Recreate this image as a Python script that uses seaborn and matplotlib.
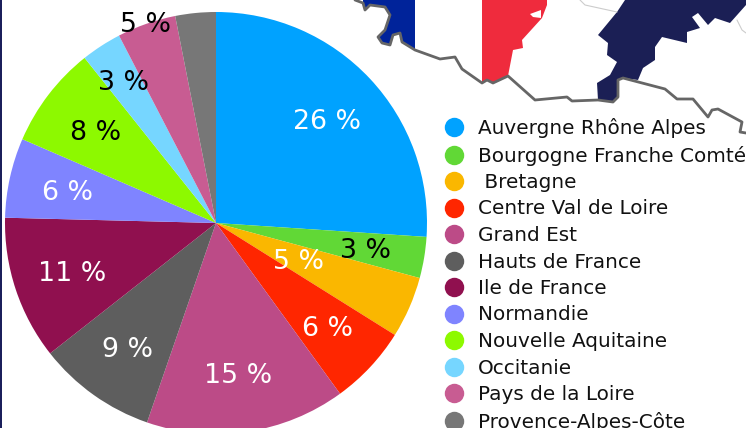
import matplotlib
matplotlib.use("Agg")
import matplotlib.pyplot as plt
from matplotlib.lines import Line2D
from matplotlib.patches import Polygon
import numpy as np
import seaborn as sns

regions = ["Auvergne Rhône Alpes", "Bourgogne Franche Comté", " Bretagne", "Centre Val de Loire",
           "Grand Est", "Hauts de France", "Ile de France", "Normandie", "Nouvelle Aquitaine",
           "Occitanie", "Pays de la Loire", "Provence-Alpes-Côte"]
shares = [26.05, 3.15, 4.7, 6.1, 15.3, 9.1, 11.0, 6.1, 7.8, 3.1, 4.5, 3.1]
slice_labels = ["26 %", "3 %", "5 %", "6 %", "15 %", "9 %", "11 %", "6 %", "8 %", "3 %", "5 %", ""]
label_colors = ["white", "black", "white", "white", "white", "white", "white", "white",
                "black", "black", "black", "black"]
label_radii = [0.72, 0.72, 0.425, 0.72, 0.72, 0.72, 0.72, 0.72, 0.72, 0.806, 1.01, 0.72]
colors = ["#00A2FF", "#61D836", "#FAB700", "#FF2600", "#BC4B87", "#5E5E5E",
          "#90104F", "#7F84FF", "#8DF900", "#76D6FF", "#C85C92", "#777777"]

# decorative background map (pixel coordinates of the reference picture)
coast = [(355,0),(363,3),(365,10),(370,5),(385,7),(390,15),(385,30),(378,37),(382,43),(390,45),
         (393,35),(400,33),(402,42),(415,50),(440,59),(455,57),(462,69),(482,83),(487,80),(493,83),
         (508,76),(535,100),(567,97),(572,101),(598,100),(613,102),(618,97),(618,80),(623,78),
         (665,89),(677,99),(693,99),(708,117),(712,110),(718,109),(742,122),(740,132),(746,133)]
blue = [(363,0),(363,3),(365,10),(370,5),(385,7),(390,15),(385,30),(378,37),(382,43),(390,45),
        (393,35),(400,33),(402,42),(415,50),(415,0)]
red = [(482,0),(547,0),(547,5),(542,18),(522,40),(523,48),(513,50),(508,76),(493,83),(487,80),(482,83)]
red_hole = [(530,14),(541,10),(541,18),(533,17)]
navy = [(625,0),(617,12),(598,35),(608,43),(607,55),(617,62),(610,75),(597,83),(598,100),(613,102),
        (618,97),(618,80),(623,78),(638,80),(643,68),(655,60),(655,47),(662,37),(687,43),(687,32),
        (700,28),(692,17),(698,13),(708,25),(715,18),(730,23),(746,5),(746,0)]
borders = [[(580,0),(585,5),(617,12)], [(737,20),(742,30),(746,33)]]

sns.set_theme(style="white")
W, H = 746, 428
fig = plt.figure(figsize=(W/100, H/100), dpi=100, facecolor="white")

bg = fig.add_axes([0, 0, 1, 1])
bg.set_xlim(0, W); bg.set_ylim(H, 0); bg.axis("off")
bg.add_patch(Polygon([(0,0),(2,0),(2,H),(0,H)], color="#1B1F5B", lw=0))
bg.add_patch(Polygon(blue, color="#00239A", lw=0))
bg.add_patch(Polygon(red, color="#EF2B3D", lw=0))
bg.add_patch(Polygon(red_hole, color="white", lw=0))
bg.add_patch(Polygon(navy, color="#1B1F55", lw=0))
for b in borders:
    bg.plot(*zip(*b), color="#CCCCCC", lw=0.8)
bg.plot(*zip(*coast), color="#666666", lw=2.0, solid_joinstyle="round")

cx, cy, R = 216, 223, 211
ax = fig.add_axes([(cx-R)/W, (H-cy-R)/H, 2*R/W, 2*R/H])
ax.patch.set_alpha(0)
wedges, _ = ax.pie(shares, colors=colors, startangle=90, counterclock=False, radius=1,
                   wedgeprops=dict(linewidth=0))
ax.set_xlim(-1, 1); ax.set_ylim(-1, 1)
for w in wedges:
    w.set_clip_on(False)

cum = np.cumsum([0] + shares)
total = sum(shares)
for i, (lab, col, r) in enumerate(zip(slice_labels, label_colors, label_radii)):
    if not lab:
        continue
    a = np.deg2rad(90 - 360*(cum[i] + shares[i]/2)/total)
    ax.annotate(lab, (r*np.cos(a), r*np.sin(a)), xytext=(0, -2), textcoords="offset points",
                color=col, fontsize=19.3, ha="center", va="center",
                family="DejaVu Sans", annotation_clip=False)

handles = [Line2D([], [], linestyle="", marker="o", markersize=14, markerfacecolor=c,
                  markeredgewidth=0) for c in colors]
leg = fig.legend(handles, regions, loc="upper left", bbox_to_anchor=(440/W, 1-118/H),
                 frameon=False, prop=dict(family="DejaVu Sans", size=14.4),
                 labelspacing=0.375, handletextpad=0.5, handlelength=1.4, borderpad=0, borderaxespad=0)
for t in leg.get_texts():
    t.set_color("#111111")

fig.savefig("out.png", dpi=100)
